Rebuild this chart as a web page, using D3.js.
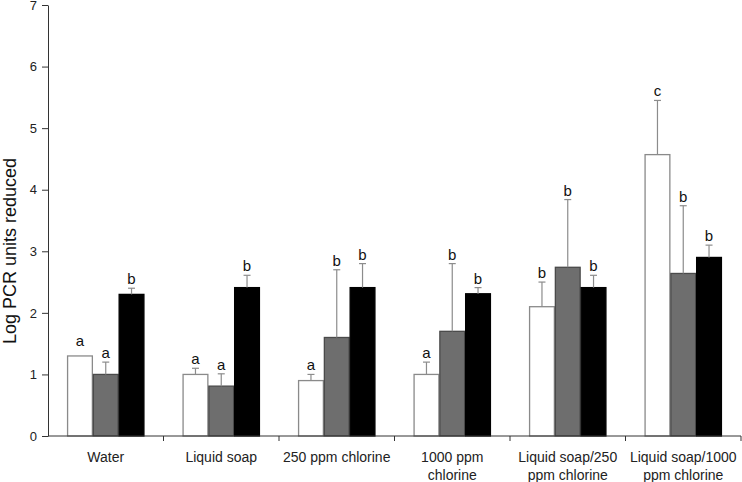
<!DOCTYPE html>
<html><head><meta charset="utf-8">
<script src="https://cdn.jsdelivr.net/npm/d3@7"></script>
<style>body{margin:0;background:#fff}svg{display:block}text{font-family:Arial,"Liberation Sans",sans-serif}</style>
</head><body><svg id="c" width="742" height="482"></svg>
<script>
const categories = [["Water"],["Liquid soap"],["250 ppm chlorine"],["1000 ppm","chlorine"],["Liquid soap/250","ppm chlorine"],["Liquid soap/1000","ppm chlorine"]];
const series = ["s1","s2","s3"];
const valuesS1 = [1.30, 1.00, 0.90, 1.00, 2.10, 4.57];
const valuesS2 = [1.00, 0.81, 1.60, 1.70, 2.74, 2.64];
const valuesS3 = [2.30, 2.41, 2.41, 2.31, 2.41, 2.90];
const errS1 = [0.00, 0.10, 0.10, 0.20, 0.40, 0.88];
const errS2 = [0.20, 0.20, 1.10, 1.10, 1.10, 1.10];
const errS3 = [0.10, 0.20, 0.39, 0.10, 0.20, 0.20];
const lettersS1 = ["a","a","a","a","b","c"];
const lettersS2 = ["a","a","b","b","b","b"];
const lettersS3 = ["b","b","b","b","b","b"];
const yTicks = [0,1,2,3,4,5,6,7];
const yTitle = "Log PCR units reduced";

(function(){
const fills = ["#ffffff","#6e6e6e","#000000"];
const strokes = ["#8a8a8a","#4a4a4a","#000000"];
const vals = [valuesS1, valuesS2, valuesS3];
const errs = [errS1, errS2, errS3];
const lets = [lettersS1, lettersS2, lettersS3];

const svg = d3.select("#c");
const mL = 48, mR = 741, mT = 5, mB = 436;
const catKeys = categories.map(c => c.join(" "));
const x0 = d3.scaleBand().domain(catKeys).range([mL, mR]).padding(0);
const x1 = d3.scaleBand().domain(series).range([0, x0.bandwidth()]).paddingInner(0).paddingOuter(0.74);
const y = d3.scaleLinear().domain([0,7]).range([mB, mT]);

const data = [];
catKeys.forEach((c,i) => series.forEach((s,j) => data.push({c, s, j, v: vals[j][i], e: errs[j][i], l: lets[j][i]})));

svg.append("g").selectAll("rect").data(data).join("rect")
  .attr("x", d => x0(d.c) + x1(d.s) + 0.5)
  .attr("y", d => y(d.v))
  .attr("width", x1.bandwidth() - 1)
  .attr("height", d => y(0) - y(d.v))
  .attr("fill", d => fills[d.j])
  .attr("stroke", d => strokes[d.j])
  .attr("stroke-width", 1.3);

const eg = svg.append("g").attr("stroke", "#8c8c8c").attr("stroke-width", 1.2);
data.filter(d => d.e > 0).forEach(d => {
  const cx = x0(d.c) + x1(d.s) + x1.bandwidth()/2;
  eg.append("line").attr("x1", cx).attr("x2", cx).attr("y1", y(d.v)).attr("y2", y(d.v + d.e));
  eg.append("line").attr("x1", cx - 3.5).attr("x2", cx + 3.5).attr("y1", y(d.v + d.e)).attr("y2", y(d.v + d.e));
});

svg.append("g").selectAll("text").data(data).join("text")
  .attr("x", d => x0(d.c) + x1(d.s) + x1.bandwidth()/2)
  .attr("y", d => y(d.v + d.e) - (d.e > 0 ? 4 : 10))
  .attr("text-anchor", "middle")
  .attr("font-size", 15)
  .attr("fill", "#111")
  .text(d => d.l);

const ya = svg.append("g").attr("transform", `translate(${mL},0)`)
  .call(d3.axisLeft(y).tickValues(yTicks).tickFormat(d3.format("d")).tickSize(6).tickSizeOuter(0).tickPadding(5));
ya.select(".domain").attr("stroke", "#333");
ya.selectAll(".tick line").attr("stroke", "#333");
ya.selectAll(".tick text").attr("font-size", 13).attr("fill", "#222").attr("font-family", "Arial, 'Liberation Sans', sans-serif");

const xa = svg.append("g");
xa.append("line").attr("x1", mL).attr("x2", mR).attr("y1", mB).attr("y2", mB).attr("stroke", "#333");
xa.selectAll("line.t").data(catKeys).join("line").attr("class","t")
  .attr("x1", d => x0(d) + x0.bandwidth()).attr("x2", d => x0(d) + x0.bandwidth())
  .attr("y1", mB).attr("y2", mB + 5).attr("stroke", "#333");
categories.forEach((c, i) => {
  const cx = x0(catKeys[i]) + x0.bandwidth()/2;
  const t = xa.append("text").attr("x", cx).attr("y", 462)
    .attr("text-anchor", "middle").attr("font-size", 14).attr("fill", "#222");
  c.forEach((line, k) => t.append("tspan").attr("x", cx).attr("dy", k === 0 ? 0 : 17.5).text(line));
});

svg.append("text").attr("transform", "translate(16,251) rotate(-90)")
  .attr("text-anchor", "middle").attr("font-size", 18).attr("fill", "#111").text(yTitle);
})();
</script></body></html>
